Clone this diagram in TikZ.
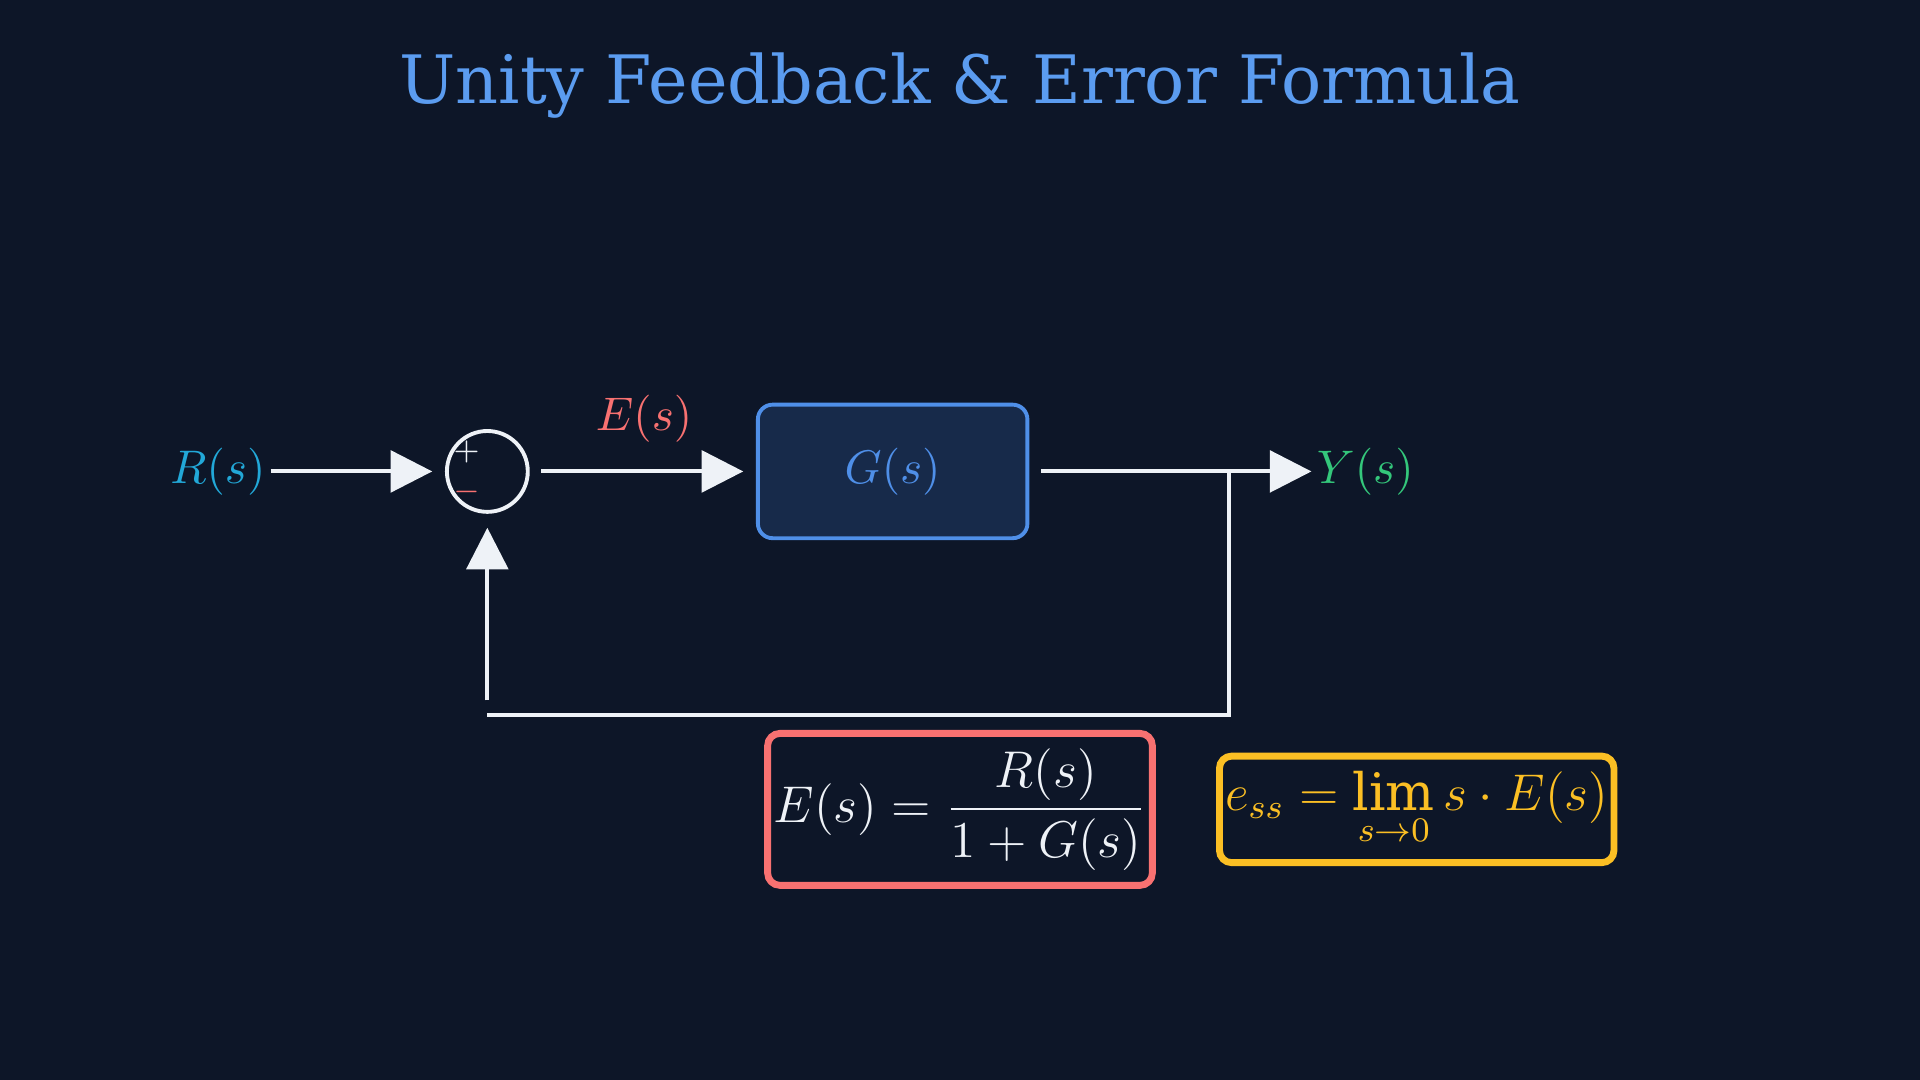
\documentclass[tikz,border=0pt]{standalone}
\usepackage{amsmath}
\usepackage{fontspec}
\setmainfont{DejaVu Serif}
\usetikzlibrary{arrows.meta,positioning}
\definecolor{bg}{HTML}{0D1628}
\definecolor{titleblue}{HTML}{5B9CF0}
\definecolor{rcol}{HTML}{22A8D8}
\definecolor{ecol}{HTML}{F87171}
\definecolor{gfill}{HTML}{172A4A}
\definecolor{gline}{HTML}{4F8FE8}
\definecolor{ycol}{HTML}{34C77B}
\definecolor{ess}{HTML}{FBBF24}
\definecolor{wire}{HTML}{EEF2F7}
\tikzset{
    sig/.style={draw=wire, line width=0.9pt, -{Triangle[length=0.34cm,width=0.34cm]}},
    wireline/.style={draw=wire, line width=0.9pt},
    lbl/.style={font=\fontsize{11}{13}\selectfont},
}
\begin{document}
\begin{tikzpicture}[x=0.01cm, y=-0.01cm]
    \fill[bg] (0,0) rectangle (1568,882);
    \useasboundingbox (0,0) rectangle (1568,882);
    \node[titleblue, font=\fontsize{15.5}{18}\selectfont] (title) at (784,70) {Unity Feedback \& Error Formula};
    % forward path
    \node[lbl, rcol] (R) at (178,385) {$R(s)$};
    \coordinate (rout) at (221,385);
    \node[circle, draw=wire, line width=0.9pt, minimum size=0.66cm, inner sep=0pt] (sum) at (398,385) {};
    \node[wire, font=\fontsize{7}{8}\selectfont] (plus) at (381,369) {$+$};
    \node[ecol, font=\fontsize{7}{8}\selectfont] (minus) at (381,402) {$-$};
    \node[draw=gline, fill=gfill, line width=0.9pt, rounded corners=0.12cm,
          minimum width=2.2cm, minimum height=1.09cm, lbl, text=gline] (G) at (729,385) {$G(s)$};
    \node[lbl, ecol] (E) at (526,342) {$E(s)$};
    \node[lbl, ycol] (Y) at (1115,385) {$Y(s)$};
    \coordinate (sumout) at (442,385);
    \coordinate (gout) at (850,385);
    \coordinate (yin) at (1071,385);
    \coordinate (tap) at (1004,385);
    \coordinate (fbr) at (1004,584);
    \coordinate (fbl) at (398,584);
    \coordinate (fbup) at (398,572);
    \coordinate (sumin) at (398,431);
    \draw[sig] (rout) -- (353,385);
    \draw[sig] (sumout) -- (607,385);
    \draw[sig] (gout) -- (yin);
    % feedback
    \draw[wireline] (tap) -- (fbr) -- (fbl);
    \draw[sig] (fbup) -- (sumin);
    % formulas
    \node[draw=ecol, line width=1.6pt, rounded corners=0.1cm, minimum width=3.14cm, minimum height=1.24cm,
          inner sep=1pt, text=wire, font=\fontsize{12.5}{15}\selectfont] (err) at (784,661)
          {$E(s)=\dfrac{R(s)}{1+G(s)}$};
    \node[draw=ess, line width=1.6pt, rounded corners=0.1cm, minimum width=3.22cm, minimum height=0.87cm,
          inner sep=1pt, text=ess, font=\fontsize{12}{14}\selectfont] (ssval) at (1157,661)
          {$e_{ss}=\lim\limits_{s\to 0} s\cdot E(s)$};
\end{tikzpicture}
\end{document}
